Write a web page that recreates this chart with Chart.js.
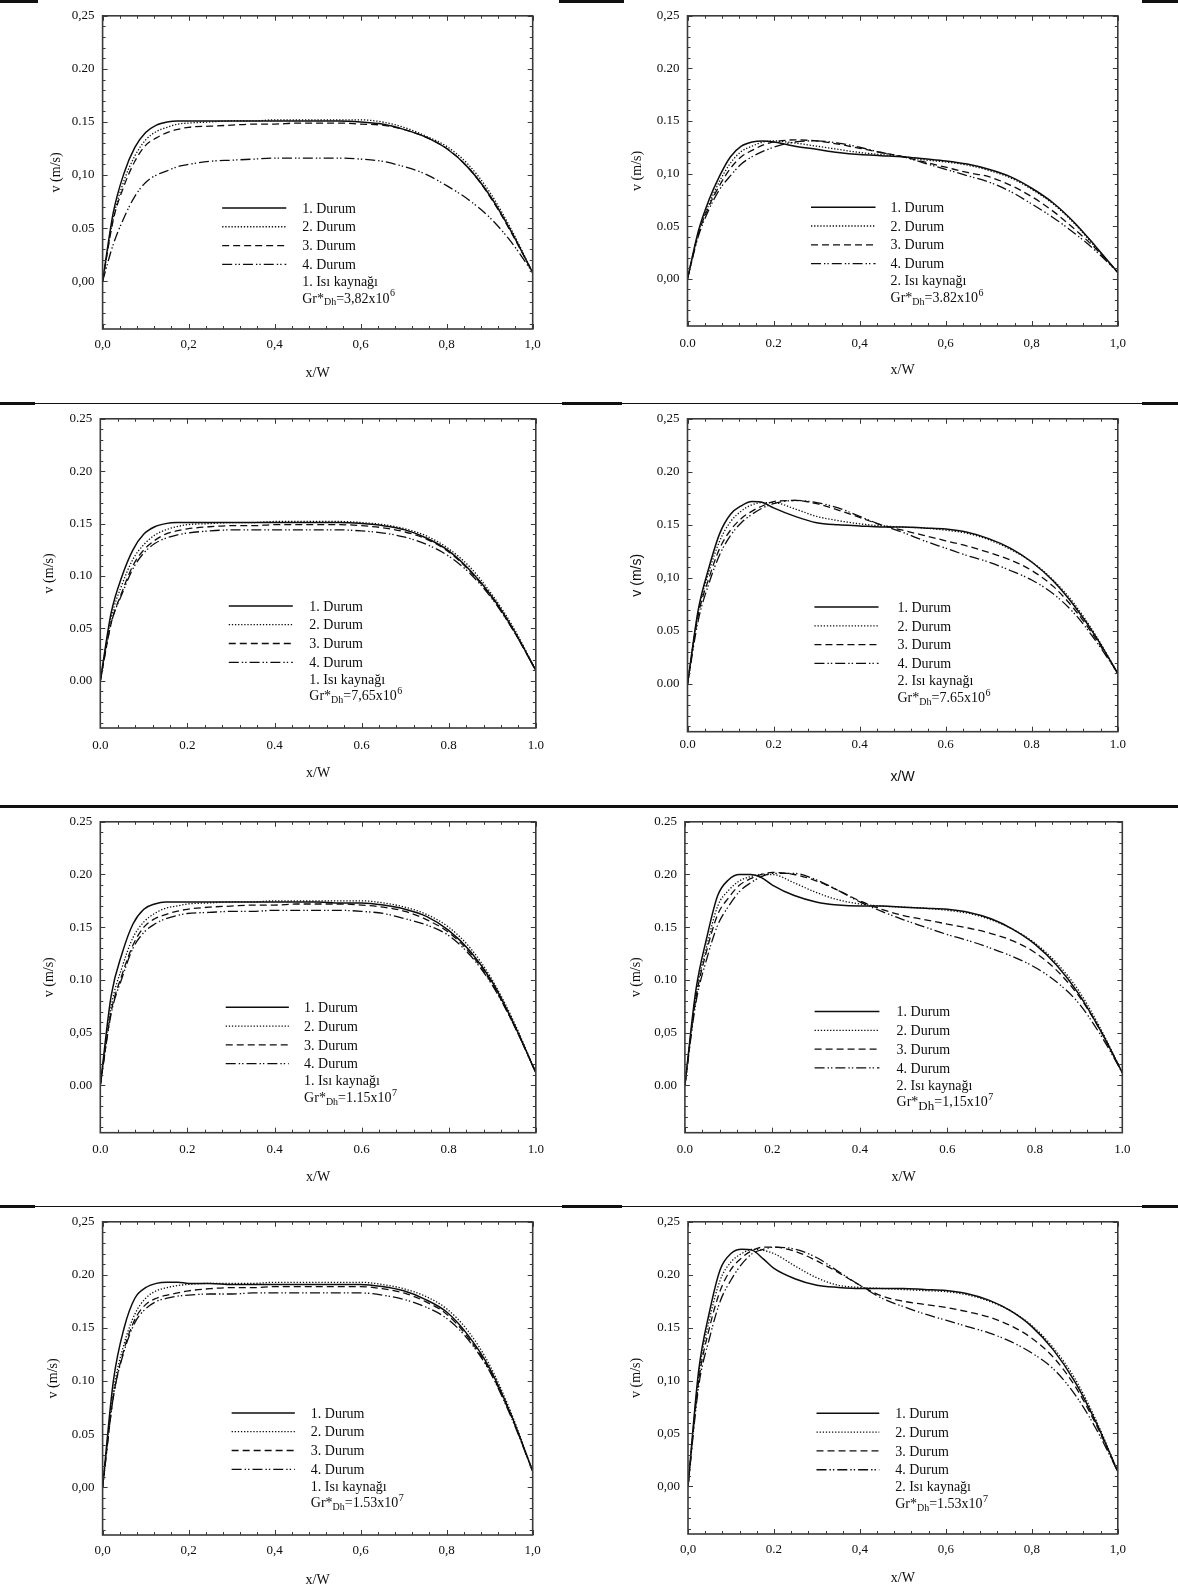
<!DOCTYPE html>
<html>
<head>
<meta charset="utf-8">
<script src="https://cdn.jsdelivr.net/npm/chart.js@4.4.1/dist/chart.umd.min.js"></script>
<style>
  html, body { margin: 0; padding: 0; background: #fff; }
  body { position: relative; width: 1178px; height: 1591px; overflow: hidden; }
  canvas.panel { position: absolute; }
  .rule { position: absolute; background: #111; }
</style>
</head>
<body>
<div id="page"></div>
<script>
// ---- shared abscissa (x/W) ----
const xPositions = [0, 0.025, 0.05, 0.075, 0.1, 0.125, 0.15, 0.175, 0.2, 0.25, 0.3, 0.35, 0.4, 0.45, 0.5, 0.55, 0.6, 0.65, 0.7, 0.75, 0.8, 0.85, 0.9, 0.95, 1.0];

// ---- 1. Isı kaynağı, Gr*Dh = 3.82x10^6 ----
const src1Gr382Durum1 = [0, .065, .102, .126, .140, .147, .150, .151, .151, .151, .151, .151, .151, .151, .151, .151, .150, .148, .143, .136, .125, .107, .081, .047, .008];
const src1Gr382Durum2 = [0, .060, .095, .118, .133, .141, .145, .148, .149, .150, .151, .151, .152, .152, .152, .152, .152, .150, .145, .137, .127, .110, .084, .049, .008];
const src1Gr382Durum3 = [0, .058, .090, .113, .128, .135, .140, .143, .145, .146, .147, .148, .148, .149, .149, .149, .148, .147, .143, .136, .125, .107, .080, .046, .008];
const src1Gr382Durum4 = [0, .035, .060, .080, .093, .100, .104, .108, .110, .113, .114, .115, .116, .116, .116, .116, .115, .113, .108, .101, .090, .077, .060, .037, .008];

// ---- 2. Isı kaynağı, Gr*Dh = 3.82x10^6 ----
const src2Gr382Durum1 = [0, .045, .075, .098, .116, .126, .130, .131, .130, .126, .123, .120, .118, .117, .116, .114, .112, .109, .104, .097, .086, .072, .053, .030, .006];
const src2Gr382Durum2 = [0, .043, .071, .093, .110, .121, .126, .130, .131, .129, .126, .123, .120, .118, .116, .113, .111, .108, .103, .096, .085, .071, .052, .029, .006];
const src2Gr382Durum3 = [0, .042, .069, .089, .105, .116, .122, .127, .130, .132, .131, .128, .124, .120, .116, .111, .106, .101, .097, .089, .078, .064, .047, .028, .006];
const src2Gr382Durum4 = [0, .040, .066, .085, .098, .109, .116, .121, .125, .130, .131, .129, .125, .120, .116, .110, .104, .098, .092, .083, .071, .058, .043, .026, .006];

// ---- 1. Isı kaynağı, Gr*Dh = 7.65x10^6 ----
const src1Gr765Durum1 = [0, .065, .100, .125, .140, .147, .150, .151, .151, .151, .151, .151, .151, .151, .151, .151, .150, .148, .144, .136, .124, .105, .080, .048, .010];
const src1Gr765Durum2 = [0, .060, .092, .116, .130, .139, .144, .147, .149, .150, .151, .151, .152, .152, .152, .152, .151, .149, .145, .138, .126, .108, .082, .050, .010];
const src1Gr765Durum3 = [0, .055, .085, .110, .125, .134, .140, .143, .145, .147, .148, .148, .149, .149, .149, .149, .148, .146, .142, .135, .123, .104, .079, .047, .010];
const src1Gr765Durum4 = [0, .055, .083, .107, .122, .131, .136, .139, .141, .143, .144, .144, .144, .144, .144, .144, .143, .141, .137, .130, .119, .102, .078, .047, .010];

// ---- 2. Isı kaynağı, Gr*Dh = 7.65x10^6 ----
const src2Gr765Durum1 = [0, .070, .110, .142, .160, .168, .172, .171, .166, .158, .152, .150, .149, .148, .148, .147, .146, .143, .137, .128, .115, .097, .073, .044, .010];
const src2Gr765Durum2 = [0, .068, .106, .135, .153, .163, .169, .171, .171, .165, .158, .154, .151, .149, .148, .147, .145, .142, .136, .127, .115, .098, .075, .045, .010];
const src2Gr765Durum3 = [0, .065, .100, .128, .145, .156, .163, .168, .172, .173, .170, .164, .157, .150, .145, .140, .135, .130, .124, .117, .107, .092, .070, .042, .010];
const src2Gr765Durum4 = [0, .060, .095, .122, .140, .152, .160, .166, .170, .173, .171, .166, .158, .150, .143, .135, .128, .121, .115, .107, .098, .085, .066, .040, .010];

// ---- 1. Isı kaynağı, Gr*Dh = 1.15x10^7 ----
const src1Gr115Durum1 = [0, .085, .125, .153, .167, .172, .174, .174, .174, .174, .174, .174, .174, .174, .174, .173, .173, .171, .167, .160, .147, .127, .098, .058, .012];
const src1Gr115Durum2 = [0, .075, .112, .140, .155, .163, .168, .170, .172, .173, .174, .174, .175, .175, .175, .175, .175, .173, .169, .162, .150, .130, .100, .060, .012];
const src1Gr115Durum3 = [0, .070, .105, .133, .150, .158, .162, .165, .167, .169, .170, .171, .171, .172, .172, .172, .171, .169, .165, .157, .145, .125, .096, .057, .012];
const src1Gr115Durum4 = [0, .068, .102, .130, .145, .153, .158, .161, .163, .164, .165, .165, .166, .166, .166, .166, .165, .163, .158, .152, .142, .123, .095, .057, .012];

// ---- 2. Isı kaynağı, Gr*Dh = 1.15x10^7 ----
const src2Gr115Durum1 = [0, .090, .140, .180, .195, .200, .200, .197, .190, .180, .174, .171, .170, .170, .169, .168, .167, .164, .158, .148, .134, .114, .087, .052, .012];
const src2Gr115Durum2 = [0, .085, .132, .170, .185, .194, .198, .200, .200, .192, .183, .176, .172, .170, .169, .168, .166, .163, .157, .148, .135, .116, .090, .054, .012];
const src2Gr115Durum3 = [0, .082, .128, .162, .178, .190, .196, .200, .202, .200, .194, .185, .175, .167, .161, .157, .153, .149, .144, .137, .126, .109, .085, .052, .012];
const src2Gr115Durum4 = [0, .078, .120, .152, .170, .184, .192, .198, .201, .201, .195, .185, .174, .165, .157, .150, .143, .137, .130, .122, .112, .098, .078, .048, .012];

// ---- 1. Isı kaynağı, Gr*Dh = 1.53x10^7 ----
const src1Gr153Durum1 = [0, .100, .150, .178, .188, .192, .193, .193, .192, .192, .191, .191, .191, .191, .191, .191, .191, .189, .185, .177, .165, .143, .112, .068, .015];
const src1Gr153Durum2 = [0, .090, .135, .163, .178, .185, .188, .190, .191, .192, .192, .192, .193, .193, .193, .193, .193, .191, .187, .180, .168, .147, .115, .070, .015];
const src1Gr153Durum3 = [0, .085, .130, .158, .172, .178, .181, .183, .185, .187, .188, .188, .189, .189, .189, .189, .189, .187, .183, .175, .163, .141, .110, .067, .015];
const src1Gr153Durum4 = [0, .085, .128, .155, .168, .175, .178, .180, .181, .182, .182, .183, .183, .183, .183, .183, .183, .181, .177, .170, .159, .139, .109, .066, .015];

// ---- 2. Isı kaynağı, Gr*Dh = 1.53x10^7 ----
const src2Gr153Durum1 = [0, .110, .165, .205, .220, .224, .223, .215, .206, .196, .190, .188, .187, .187, .187, .186, .185, .182, .176, .166, .151, .129, .099, .060, .014];
const src2Gr153Durum2 = [0, .105, .158, .195, .212, .220, .224, .223, .220, .208, .197, .190, .188, .187, .186, .185, .184, .181, .175, .166, .152, .131, .102, .062, .014];
const src2Gr153Durum3 = [0, .100, .150, .185, .205, .216, .223, .226, .226, .222, .213, .202, .190, .180, .175, .172, .169, .165, .160, .152, .140, .122, .095, .058, .014];
const src2Gr153Durum4 = [0, .095, .140, .175, .195, .210, .220, .224, .226, .224, .216, .203, .190, .178, .170, .163, .157, .151, .145, .137, .126, .111, .087, .054, .014];

// ---- axis ticks and labels ----
const xTickValues = [0, 0.2, 0.4, 0.6, 0.8, 1.0];
const yTickValues = [0, 0.05, 0.10, 0.15, 0.20, 0.25];
const xLabelsComma = ['0,0', '0,2', '0,4', '0,6', '0,8', '1,0'];
const xLabelsPoint = ['0.0', '0.2', '0.4', '0.6', '0.8', '1.0'];
const xLabelsMixed = ['0.0', '0.2', '0,4', '0,6', '0,8', '1,0'];
const xLabelsMixed2 = ['0,0', '0.2', '0,4', '0,6', '0,8', '1,0'];
const yLabelsA = ['0,00', '0.05', '0,10', '0.15', '0.20', '0,25'];
const yLabelsB = ['0.00', '0.05', '0.10', '0.15', '0.20', '0.25'];
const yLabelsC = ['0.00', '0.05', '0,10', '0.15', '0.20', '0,25'];
const yLabelsD = ['0.00', '0,05', '0.10', '0.15', '0.20', '0.25'];
const yLabelsE = ['0,00', '0.05', '0.10', '0.15', '0.20', '0,25'];
const yLabelsF = ['0,00', '0,05', '0,10', '0.15', '0.20', '0,25'];

// ---- legend texts ----
const durumLabels = ['1. Durum', '2. Durum', '3. Durum', '4. Durum'];
const sourceLabels = ['1. Isı kaynağı', '2. Isı kaynağı'];
const grMantissas = ['3,82x10', '3.82x10', '7,65x10', '7.65x10', '1.15x10', '1,15x10', '1.53x10', '1.53x10'];
const grExponents = ['6', '6', '6', '6', '7', '7', '7', '7'];

// ---- line styles of the four cases ----
const caseStyles = [
  { borderDash: [], borderWidth: 1.5 },
  { borderDash: [1.3, 1.8], borderWidth: 1.3 },
  { borderDash: [7, 4], borderWidth: 1.3 },
  { borderDash: [10, 3, 1.4, 2, 1.4, 3], borderWidth: 1.3 }
];

// ---- panels: data + geometry ----
const rowTops = [0, 403, 806, 1206, 1591];
const colLefts = [0, 580, 1178];
const panels = [
  { series: [src1Gr382Durum1, src1Gr382Durum2, src1Gr382Durum3, src1Gr382Durum4], src: 0, gr: 0, yl: yLabelsA, xl: xLabelsComma,
    row: 0, col: 0, plot: [102.6, 10.7, 532.7, 329], yTitleX: 56.6, xTitleY: 373, xLabelY: 345, leg: [.278, .427, .464, .069], subSize: 10, sansTitles: false },
  { series: [src2Gr382Durum1, src2Gr382Durum2, src2Gr382Durum3, src2Gr382Durum4], src: 1, gr: 1, yl: yLabelsA, xl: xLabelsMixed,
    row: 0, col: 1, plot: [687.5, 7.3, 1117.8, 326], yTitleX: 637.2, xTitleY: 370.7, xLabelY: 343.3, leg: [.287, .437, .472, .068], subSize: 10, sansTitles: false },
  { series: [src1Gr765Durum1, src1Gr765Durum2, src1Gr765Durum3, src1Gr765Durum4], src: 0, gr: 2, yl: yLabelsB, xl: xLabelsPoint,
    row: 1, col: 0, plot: [100.3, 413, 535.8, 728], yTitleX: 49, xTitleY: 773.3, xLabelY: 746, leg: [.295, .442, .480, .0715], subSize: 10, sansTitles: false },
  { series: [src2Gr765Durum1, src2Gr765Durum2, src2Gr765Durum3, src2Gr765Durum4], src: 1, gr: 3, yl: yLabelsC, xl: xLabelsPoint,
    row: 1, col: 1, plot: [687.5, 413, 1117.8, 731.7], yTitleX: 637.2, xTitleY: 776.7, xLabelY: 745, leg: [.295, .444, .488, .0725], subSize: 10, sansTitles: true },
  { series: [src1Gr115Durum1, src1Gr115Durum2, src1Gr115Durum3, src1Gr115Durum4], src: 0, gr: 4, yl: yLabelsD, xl: xLabelsPoint,
    row: 2, col: 0, plot: [100.3, 817.7, 535.8, 1132.7], yTitleX: 49, xTitleY: 1177.3, xLabelY: 1149.3, leg: [.288, .433, .468, .074], subSize: 10, sansTitles: false },
  { series: [src2Gr115Durum1, src2Gr115Durum2, src2Gr115Durum3, src2Gr115Durum4], src: 1, gr: 5, yl: yLabelsD, xl: xLabelsPoint,
    row: 2, col: 1, plot: [684.9, 817.7, 1122.3, 1132.7], yTitleX: 636.4, xTitleY: 1177.3, xLabelY: 1149.3, leg: [.2965, .4447, .484, .070], subSize: 13, sansTitles: false },
  { series: [src1Gr153Durum1, src1Gr153Durum2, src1Gr153Durum3, src1Gr153Durum4], src: 0, gr: 6, yl: yLabelsE, xl: xLabelsComma,
    row: 3, col: 0, plot: [102.6, 1216.7, 532.7, 1535], yTitleX: 53.6, xTitleY: 1580, xLabelY: 1550.7, leg: [.300, .447, .484, .070], subSize: 10, sansTitles: false },
  { series: [src2Gr153Durum1, src2Gr153Durum2, src2Gr153Durum3, src2Gr153Durum4], src: 1, gr: 7, yl: yLabelsF, xl: xLabelsMixed2,
    row: 3, col: 1, plot: [688, 1215, 1117.8, 1534], yTitleX: 636.4, xTitleY: 1578.3, xLabelY: 1550, leg: [.299, .445, .482, .069], subSize: 10, sansTitles: false }
];

const SERIF = "'Liberation Serif', 'Times New Roman', serif";
const SANS = "'Liberation Sans', Arial, sans-serif";
const INK = '#0d0d0d';
const TICK_FONT = 13, TITLE_FONT = 14, LEGEND_FONT = 14;

// frame, inward minor/major ticks on all four sides and the in-plot legend
const panelDecor = {
  id: 'panelDecor',
  afterDatasetsDraw(chart, args, opts) {
    const { ctx, chartArea: a, scales: { x, y } } = chart;
    ctx.save();
    ctx.strokeStyle = '#3a3a3a';
    ctx.lineWidth = 1;
    ctx.setLineDash([]);
    ctx.beginPath();
    for (let i = -4; i <= 25; i++) {
      const py = Math.round(y.getPixelForValue(i / 100)) + 0.5;
      const len = (i % 5 === 0) ? 5 : 3;
      ctx.moveTo(a.left, py); ctx.lineTo(a.left + len, py);
      ctx.moveTo(a.right, py); ctx.lineTo(a.right - len, py);
    }
    for (let i = 0; i <= 25; i++) {
      const px = Math.round(x.getPixelForValue(i * 0.04)) + 0.5;
      const len = (i % 5 === 0) ? 5 : 3;
      ctx.moveTo(px, a.bottom); ctx.lineTo(px, a.bottom - len);
      ctx.moveTo(px, a.top); ctx.lineTo(px, a.top + len);
    }
    ctx.stroke();
    ctx.lineWidth = 1.6;
    ctx.strokeRect(a.left, a.top, a.right - a.left, a.bottom - a.top);

    // legend
    const [f1, f2, ft, yv] = opts.leg;
    const x1 = x.getPixelForValue(f1), x2 = x.getPixelForValue(f2), tx = x.getPixelForValue(ft);
    const ry = y.getPixelForValue(yv);
    ctx.font = LEGEND_FONT + 'px ' + SERIF;
    ctx.fillStyle = INK;
    ctx.textBaseline = 'middle';
    ctx.textAlign = 'left';
    chart.data.datasets.forEach((ds, i) => {
      const py = ry + i * 18.8;
      ctx.strokeStyle = ds.borderColor;
      ctx.lineWidth = ds.borderWidth;
      ctx.setLineDash(ds.borderDash || []);
      ctx.beginPath(); ctx.moveTo(x1, py); ctx.lineTo(x2, py); ctx.stroke();
      ctx.fillText(ds.label, tx, py + 1);
    });
    ctx.setLineDash([]);
    const sy = ry + 3 * 18.8 + 17;
    ctx.fillText(opts.source, tx, sy + 1);
    const gy = sy + 16.5;
    let cx = tx;
    ctx.fillText('Gr*', cx, gy + 1); cx += ctx.measureText('Gr*').width;
    ctx.font = opts.subSize + 'px ' + SERIF;
    ctx.fillText('Dh', cx, gy + 5); cx += ctx.measureText('Dh').width;
    ctx.font = LEGEND_FONT + 'px ' + SERIF;
    ctx.fillText('=' + opts.mantissa, cx, gy + 1); cx += ctx.measureText('=' + opts.mantissa).width;
    ctx.font = (LEGEND_FONT - 4) + 'px ' + SERIF;
    ctx.fillText(opts.exponent, cx + 0.5, gy - 4);
    ctx.restore();
  }
};

// horizontal rules between rows
function rule(x, y, w, h) {
  const d = document.createElement('div');
  d.className = 'rule';
  d.style.left = x + 'px'; d.style.top = y + 'px';
  d.style.width = w + 'px'; d.style.height = h + 'px';
  document.body.appendChild(d);
}

panels.forEach((p) => {
  const cL = colLefts[p.col], cR = colLefts[p.col + 1];
  const cT = rowTops[p.row], cB = rowTops[p.row + 1];
  const W = cR - cL, H = cB - cT;
  const [pl, pt, pr, pb] = p.plot;
  const canvas = document.createElement('canvas');
  canvas.className = 'panel';
  canvas.width = W; canvas.height = H;
  canvas.style.left = cL + 'px'; canvas.style.top = cT + 'px';
  canvas.style.width = W + 'px'; canvas.style.height = H + 'px';
  document.body.appendChild(canvas);

  const titleFamily = p.sansTitles ? SANS : SERIF;
  const tickLH = TICK_FONT * 1.2, titleLH = TITLE_FONT * 1.2;

  new Chart(canvas.getContext('2d'), {
    type: 'line',
    data: {
      datasets: p.series.map((vals, i) => ({
        label: durumLabels[i],
        data: xPositions.map((xv, k) => ({ x: xv, y: vals[k] })),
        borderColor: INK,
        borderWidth: caseStyles[i].borderWidth,
        borderDash: caseStyles[i].borderDash,
        pointRadius: 0,
        fill: false,
        cubicInterpolationMode: 'monotone'
      }))
    },
    options: {
      responsive: false,
      animation: false,
      devicePixelRatio: 1,
      layout: { padding: { top: pt - cT, right: cR - pr, left: 0, bottom: 0 } },
      plugins: {
        legend: { display: false },
        tooltip: { enabled: false },
        panelDecor: { leg: p.leg, source: sourceLabels[p.src], mantissa: grMantissas[p.gr], exponent: grExponents[p.gr], subSize: p.subSize }
      },
      scales: {
        x: {
          type: 'linear', min: 0, max: 1,
          grid: { display: false, drawTicks: false },
          border: { display: false },
          afterBuildTicks: (s) => { s.ticks = xTickValues.map(v => ({ value: v })); },
          afterFit: (s) => { s.height = cB - pb; },
          ticks: {
            autoSkip: false, maxRotation: 0, color: INK,
            font: { family: SERIF, size: TICK_FONT },
            padding: (p.xLabelY - pb) - tickLH / 2,
            callback: (v, i) => p.xl[i]
          },
          title: {
            display: true, text: 'x/W', color: INK,
            font: { family: titleFamily, size: TITLE_FONT },
            padding: { top: 0, bottom: (cB - p.xTitleY) - titleLH / 2 }
          }
        },
        y: {
          type: 'linear', min: -0.045, max: 0.25,
          grid: { display: false, drawTicks: false },
          border: { display: false },
          afterBuildTicks: (s) => { s.ticks = yTickValues.map(v => ({ value: v })); },
          afterFit: (s) => { s.width = pl - cL; },
          ticks: {
            color: INK,
            font: { family: SERIF, size: TICK_FONT },
            padding: 8,
            callback: (v, i) => p.yl[i]
          },
          title: {
            display: true, text: 'v (m/s)', color: INK,
            font: { family: titleFamily, size: TITLE_FONT },
            padding: { top: (p.yTitleX - cL) - titleLH / 2, bottom: 0 }
          }
        }
      }
    },
    plugins: [panelDecor]
  });
});

// separators: thin full-width rules with heavier end pieces
[403, 1206].forEach(yy => {
  rule(0, yy - 0.5, 1178, 1.5);
  rule(0, yy - 1, 35, 3); rule(562, yy - 1, 60, 3); rule(1142, yy - 1, 36, 3);
});
rule(0, 805, 1178, 2.6);
rule(0, 0, 38, 2.5); rule(559, 0, 65, 2.5); rule(1142, 0, 36, 2.5);
</script>
</body>
</html>
